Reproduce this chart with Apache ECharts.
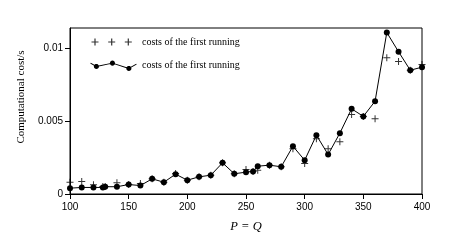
<!DOCTYPE html>
<html><head><meta charset="utf-8">
<script src="https://cdn.jsdelivr.net/npm/echarts@6/dist/echarts.min.js"></script>
<style>html,body{margin:0;padding:0;background:#fff}#c{width:450px;height:251px}</style>
</head><body><div id="c"></div>
<script>
const pValues = [100,110,120,128,130,140,150,160,170,180,190,200,210,220,230,240,250,256,260,270,280,290,300,310,320,330,340,350,360,370,380,390,400];
const lineCosts = [0.0004,0.00045,0.00045,0.00045,0.0005,0.0005,0.00065,0.00058,0.00104,0.00081,0.00136,0.00095,0.00118,0.00129,0.00214,0.00139,0.0015,0.00155,0.00191,0.00198,0.00187,0.00328,0.00232,0.00404,0.00271,0.00418,0.00585,0.00533,0.00637,0.01109,0.00977,0.0085,0.00871];
const plusCosts = [0.00081,0.00086,0.00063,0.00052,0.00052,0.00077,0.00065,0.00072,0.00104,0.00081,0.0014,0.00095,0.00118,0.00129,0.00214,0.00139,0.00168,0.00155,0.00163,0.00198,0.00187,0.0031,0.0021,0.00379,0.0031,0.00358,0.00546,0.00533,0.00516,0.00935,0.0091,0.0085,0.0089];
const xTicks = [100,150,200,250,300,350,400];
const yTicks = [0,0.005,0.01];
const legendText = 'costs of the first running';

function polyPath(pts){
  let a=0; for(let i=0;i<pts.length;i++){const p=pts[i],q=pts[(i+1)%pts.length];a+=p[0]*q[1]-q[0]*p[1];}
  if(a<0) pts=pts.slice().reverse();
  return 'M'+pts.map(p=>p[0].toFixed(2)+','+p[1].toFixed(2)).join('L')+'Z';
}
function circle(cx,cy,r){const pts=[];for(let i=0;i<16;i++){const t=i/16*Math.PI*2;pts.push([cx+r*Math.cos(t),cy+r*Math.sin(t)]);}return polyPath(pts);}
function seg(p,q,h){const dx=q[0]-p[0],dy=q[1]-p[1],l=Math.hypot(dx,dy),nx=-dy/l*h,ny=dx/l*h;return polyPath([[p[0]+nx,p[1]+ny],[q[0]+nx,q[1]+ny],[q[0]-nx,q[1]-ny],[p[0]-nx,p[1]-ny]]);}
function plus(cx,cy,s){return polyPath([[cx-s,cy-0.6],[cx+s,cy-0.6],[cx+s,cy+0.6],[cx-s,cy+0.6]])+polyPath([[cx-0.6,cy-s],[cx+0.6,cy-s],[cx+0.6,cy+s],[cx-0.6,cy+s]]);}
const bounds='M0,0L0,0ZM47,12L47,12Z';
const plusIcon='path://'+bounds+plus(5,6,3.5)+plus(21.7,6,3.5)+plus(38.3,6,3.5);
const lp=[[0,4.2],[6,7.6],[22.3,4.2],[39,9.6],[46.7,5.2]];
let lineIconPath=bounds;
for(let i=0;i<lp.length-1;i++) lineIconPath+=seg(lp[i],lp[i+1],0.5);
lineIconPath+=circle(6,7.6,2.6)+circle(22.3,4.2,2.6)+circle(39,9.6,2.6);
const lineIcon='path://'+lineIconPath;

const chart = echarts.init(document.getElementById('c'), null, {renderer:'canvas'});
const sansFont='Liberation Sans', serifFont='Liberation Serif';
chart.setOption({
  animation:false,
  grid:{left:70,right:28,top:28,bottom:57,show:true,borderColor:'#000',borderWidth:1,backgroundColor:'transparent'},
  legend:{
    orient:'vertical',left:90,top:36,padding:0,itemGap:11,itemWidth:47,itemHeight:12,selectedMode:false,
    textStyle:{fontFamily:serifFont,fontSize:10,color:'#000'},
    formatter:()=>legendText,
    data:[{name:'plus',icon:plusIcon,itemStyle:{color:'#000'}},{name:'line',icon:lineIcon,itemStyle:{color:'#000'}}]
  },
  xAxis:{
    type:'value',min:100,max:400,interval:50,
    name:'P = Q',nameLocation:'middle',nameGap:26,
    nameTextStyle:{fontFamily:serifFont,fontStyle:'italic',fontSize:12.5,color:'#000'},
    axisLine:{lineStyle:{color:'#000',width:1}},
    axisTick:{show:true,inside:false,length:5,lineStyle:{color:'#000'}},
    axisLabel:{fontFamily:sansFont,fontSize:10,color:'#000',margin:8,customValues:xTicks},
    splitLine:{show:false}
  },
  yAxis:{
    type:'value',min:0,max:0.0114,
    name:'Computational cost/s',nameLocation:'middle',nameGap:38,
    nameTextStyle:{fontFamily:serifFont,fontSize:11,color:'#000',padding:[0,0,0,28]},
    axisLine:{show:true,lineStyle:{color:'#000',width:1}},
    axisTick:{show:true,inside:false,length:5,lineStyle:{color:'#000'},customValues:yTicks},
    axisLabel:{fontFamily:sansFont,fontSize:10,color:'#000',margin:7,customValues:yTicks,formatter:v=>String(+v.toFixed(4))},
    splitLine:{show:false}
  },
  series:[
    {name:'line',type:'line',data:pValues.map((p,i)=>[p,lineCosts[i]]),symbol:'circle',symbolSize:6,showAllSymbol:true,
     lineStyle:{color:'#000',width:1},itemStyle:{color:'#000'},z:2},
    {name:'plus',type:'scatter',data:pValues.map((p,i)=>[p,plusCosts[i]]),symbol:'path://M0,3H7V4H0ZM3,0H4V7H3Z',symbolSize:7,
     itemStyle:{color:'#000'},z:3}
  ]
});
</script></body></html>
